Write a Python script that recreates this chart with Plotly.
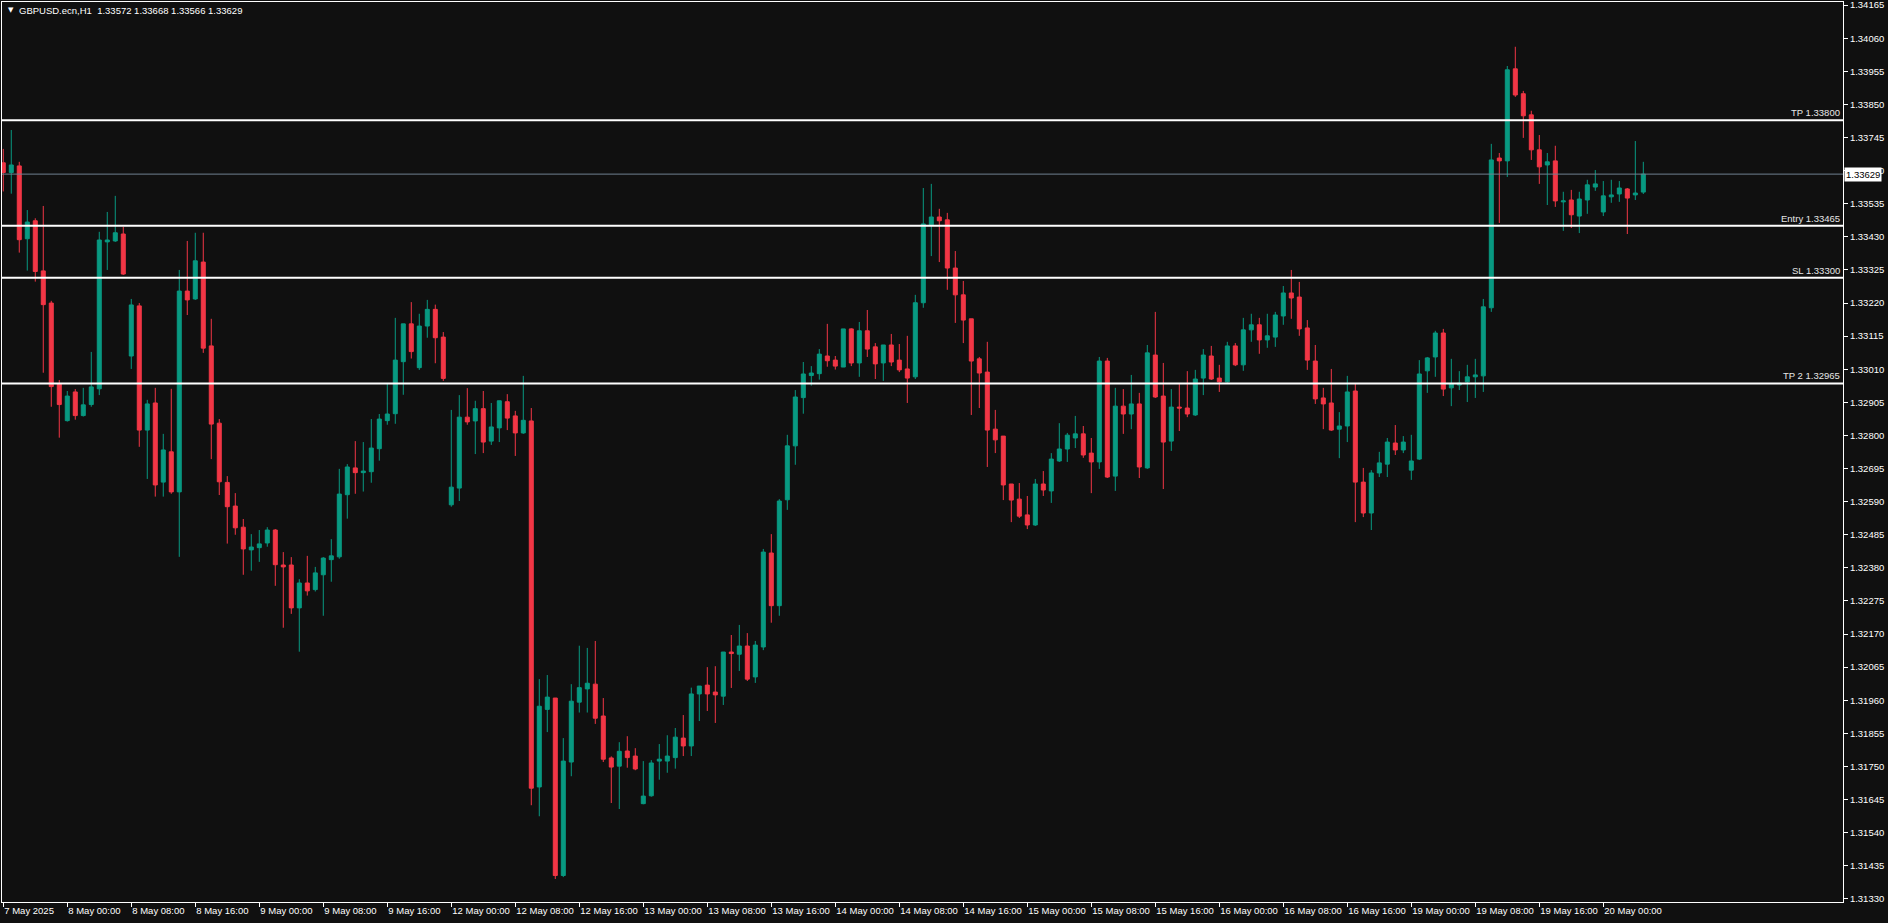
import plotly.graph_objects as go

# ---------------- data ----------------
days = ["2025-05-07", "2025-05-08", "2025-05-09", "2025-05-12", "2025-05-13",
        "2025-05-14", "2025-05-15", "2025-05-16", "2025-05-19", "2025-05-20"]
first_hour = 16
last_hour = 5

opens = [1.33665, 1.33634, 1.33655, 1.33424, 1.33481, 1.33322, 1.33220, 1.32963, 1.32847, 1.32938,
         1.32863, 1.32898, 1.32948, 1.33414, 1.33417, 1.33439, 1.33052, 1.33211, 1.32817, 1.32903,
         1.32652, 1.32748, 1.32621, 1.33258, 1.33233, 1.33350, 1.33084, 1.32839, 1.32651, 1.32576,
         1.32509, 1.32437, 1.32444, 1.32459, 1.32500, 1.32389, 1.32389, 1.32253, 1.32332, 1.32311,
         1.32358, 1.32406, 1.32415, 1.32612, 1.32697, 1.32682, 1.32685, 1.32758, 1.32847, 1.32869,
         1.33034, 1.33154, 1.33015, 1.33147, 1.33200, 1.33112, 1.32580, 1.32633, 1.32858, 1.32846,
         1.32885, 1.32782, 1.32824, 1.32907, 1.32862, 1.32808, 1.32846, 1.31685, 1.31931, 1.31967,
         1.31404, 1.31764, 1.31954, 1.31996, 1.32011, 1.31910, 1.31777, 1.31751, 1.31799, 1.31783,
         1.31632, 1.31657, 1.31767, 1.31767, 1.31778, 1.31840, 1.31815, 1.31980, 1.32008, 1.31986,
         1.31973, 1.32113, 1.32106, 1.32132, 1.32034, 1.32129, 1.32427, 1.32260, 1.32596, 1.32767,
         1.32920, 1.32990, 1.32996, 1.33052, 1.33039, 1.33017, 1.33138, 1.33030, 1.33132, 1.33081,
         1.33030, 1.33087, 1.33039, 1.33011, 1.32986, 1.33221, 1.33468, 1.33493, 1.33484, 1.33331,
         1.33246, 1.33170, 1.33043, 1.33001, 1.32820, 1.32798, 1.32646, 1.32598, 1.32548, 1.32516,
         1.32646, 1.32624, 1.32719, 1.32757, 1.32792, 1.32805, 1.32744, 1.32716, 1.33036, 1.32671,
         1.32893, 1.32868, 1.32900, 1.32697, 1.33055, 1.32925, 1.32782, 1.32890, 1.32887, 1.32865,
         1.32982, 1.33052, 1.32982, 1.32970, 1.33084, 1.33024, 1.33135, 1.33151, 1.33103, 1.33112,
         1.33179, 1.33252, 1.33239, 1.33141, 1.33036, 1.32919, 1.32903, 1.32820, 1.32830, 1.32941,
         1.32652, 1.32554, 1.32681, 1.32709, 1.32776, 1.32754, 1.32690, 1.32725, 1.33005, 1.33049,
         1.33125, 1.32951, 1.32960, 1.32970, 1.32986, 1.32989, 1.33205, 1.33680, 1.33671, 1.33963,
         1.33884, 1.33817, 1.33706, 1.33658, 1.33671, 1.33541, 1.33547, 1.33496, 1.33547, 1.33588,
         1.33509, 1.33557, 1.33566, 1.33582, 1.33563, 1.33572]

highs = [1.33709, 1.33769, 1.33668, 1.33515, 1.33489, 1.33528, 1.33227, 1.32976, 1.32941, 1.32947,
         1.32951, 1.33065, 1.33446, 1.33509, 1.33560, 1.33462, 1.33233, 1.33220, 1.32913, 1.32951,
         1.32805, 1.32948, 1.33325, 1.33417, 1.33443, 1.33443, 1.33170, 1.32852, 1.32671, 1.32617,
         1.32535, 1.32487, 1.32500, 1.32509, 1.32503, 1.32430, 1.32414, 1.32344, 1.32418, 1.32383,
         1.32414, 1.32471, 1.32694, 1.32709, 1.32782, 1.32779, 1.32852, 1.32868, 1.32964, 1.33173,
         1.33154, 1.33223, 1.33186, 1.33230, 1.33215, 1.33128, 1.32881, 1.32928, 1.32950, 1.32910,
         1.32941, 1.32903, 1.32910, 1.32931, 1.32878, 1.32989, 1.32887, 1.32027, 1.32040, 1.31967,
         1.31840, 1.32011, 1.32133, 1.32126, 1.32148, 1.31967, 1.31782, 1.31827, 1.31846, 1.31808,
         1.31767, 1.31770, 1.31821, 1.31849, 1.31872, 1.31913, 1.32000, 1.32005, 1.32065, 1.32068,
         1.32113, 1.32167, 1.32199, 1.32173, 1.32148, 1.32440, 1.32487, 1.32598, 1.32802, 1.32944,
         1.33033, 1.33020, 1.33074, 1.33154, 1.33052, 1.33138, 1.33140, 1.33160, 1.33198, 1.33093,
         1.33087, 1.33122, 1.33090, 1.33116, 1.33246, 1.33585, 1.33598, 1.33519, 1.33506, 1.33385,
         1.33290, 1.33170, 1.33049, 1.33097, 1.32881, 1.32798, 1.32646, 1.32649, 1.32608, 1.32662,
         1.32687, 1.32744, 1.32839, 1.32808, 1.32862, 1.32830, 1.32792, 1.33049, 1.33046, 1.32951,
         1.32947, 1.32992, 1.32935, 1.33087, 1.33192, 1.33030, 1.32947, 1.32963, 1.33004, 1.33008,
         1.33074, 1.33084, 1.33024, 1.33097, 1.33093, 1.33173, 1.33186, 1.33173, 1.33186, 1.33192,
         1.33274, 1.33325, 1.33287, 1.33166, 1.33087, 1.32951, 1.33011, 1.32874, 1.32989, 1.32963,
         1.32697, 1.32690, 1.32748, 1.32792, 1.32833, 1.32798, 1.32802, 1.33039, 1.33049, 1.33132,
         1.33138, 1.33043, 1.33004, 1.33024, 1.33043, 1.33233, 1.33725, 1.33696, 1.33972, 1.34033,
         1.33893, 1.33830, 1.33753, 1.33696, 1.33719, 1.33573, 1.33579, 1.33573, 1.33611, 1.33642,
         1.33607, 1.33611, 1.33607, 1.33585, 1.33734, 1.33668]

lows = [1.33574, 1.33567, 1.33380, 1.33323, 1.33288, 1.32999, 1.32891, 1.32793, 1.32844, 1.32850,
        1.32860, 1.32891, 1.32928, 1.33325, 1.33414, 1.33309, 1.33011, 1.32764, 1.32662, 1.32606,
        1.32606, 1.32615, 1.32415, 1.33182, 1.33230, 1.33062, 1.32725, 1.32611, 1.32457, 1.32485,
        1.32358, 1.32371, 1.32399, 1.32447, 1.32323, 1.32190, 1.32234, 1.32114, 1.32292, 1.32305,
        1.32228, 1.32336, 1.32409, 1.32536, 1.32615, 1.32622, 1.32650, 1.32720, 1.32834, 1.32837,
        1.32929, 1.33044, 1.33008, 1.33110, 1.33029, 1.32973, 1.32574, 1.32592, 1.32834, 1.32741,
        1.32744, 1.32770, 1.32779, 1.32817, 1.32735, 1.32805, 1.31627, 1.31592, 1.31859, 1.31393,
        1.31399, 1.31719, 1.31921, 1.31921, 1.31885, 1.31764, 1.31634, 1.31615, 1.31746, 1.31738,
        1.31630, 1.31654, 1.31708, 1.31730, 1.31743, 1.31783, 1.31783, 1.31894, 1.31926, 1.31888,
        1.31945, 1.31999, 1.32053, 1.32021, 1.32015, 1.32119, 1.32206, 1.32228, 1.32564, 1.32707,
        1.32869, 1.32958, 1.32977, 1.33018, 1.33009, 1.33017, 1.33020, 1.32986, 1.33049, 1.32979,
        1.32973, 1.33020, 1.33001, 1.32903, 1.32979, 1.33205, 1.33369, 1.33350, 1.33262, 1.33157,
        1.33093, 1.32865, 1.32887, 1.32700, 1.32744, 1.32595, 1.32525, 1.32538, 1.32503, 1.32513,
        1.32608, 1.32586, 1.32716, 1.32716, 1.32760, 1.32729, 1.32617, 1.32694, 1.32665, 1.32624,
        1.32805, 1.32820, 1.32665, 1.32694, 1.32919, 1.32630, 1.32751, 1.32814, 1.32858, 1.32862,
        1.32928, 1.32976, 1.32938, 1.32967, 1.33020, 1.33005, 1.33097, 1.33059, 1.33078, 1.33081,
        1.33151, 1.33170, 1.33116, 1.33008, 1.32900, 1.32820, 1.32814, 1.32728, 1.32779, 1.32525,
        1.32541, 1.32500, 1.32668, 1.32668, 1.32738, 1.32744, 1.32659, 1.32722, 1.32935, 1.32986,
        1.32925, 1.32893, 1.32944, 1.32906, 1.32919, 1.32938, 1.33192, 1.33474, 1.33620, 1.33874,
        1.33744, 1.33674, 1.33598, 1.33531, 1.33525, 1.33449, 1.33458, 1.33442, 1.33503, 1.33576,
        1.33496, 1.33538, 1.33541, 1.33439, 1.33547, 1.33566]

closes = [1.33634, 1.33658, 1.33421, 1.33477, 1.33320, 1.33215, 1.32955, 1.32898, 1.32925, 1.32863,
          1.32897, 1.32954, 1.33420, 1.33420, 1.33443, 1.33312, 1.33214, 1.32817, 1.32900, 1.32643,
          1.32754, 1.32621, 1.33258, 1.33230, 1.33354, 1.33077, 1.32836, 1.32653, 1.32574, 1.32507,
          1.32440, 1.32446, 1.32456, 1.32500, 1.32390, 1.32383, 1.32253, 1.32332, 1.32307, 1.32364,
          1.32411, 1.32418, 1.32614, 1.32700, 1.32682, 1.32687, 1.32760, 1.32852, 1.32868, 1.33039,
          1.33154, 1.33066, 1.33147, 1.33200, 1.33110, 1.32981, 1.32636, 1.32858, 1.32843, 1.32885,
          1.32779, 1.32827, 1.32910, 1.32855, 1.32808, 1.32848, 1.31681, 1.31941, 1.31970, 1.31404,
          1.31767, 1.31957, 1.32000, 1.32014, 1.31903, 1.31773, 1.31748, 1.31798, 1.31778, 1.31742,
          1.31656, 1.31761, 1.31773, 1.31783, 1.31843, 1.31815, 1.31980, 1.32005, 1.31980, 1.31977,
          1.32113, 1.32108, 1.32132, 1.32027, 1.32135, 1.32430, 1.32260, 1.32592, 1.32767, 1.32922,
          1.32995, 1.32998, 1.33058, 1.33037, 1.33020, 1.33138, 1.33030, 1.33132, 1.33074, 1.33027,
          1.33087, 1.33033, 1.33008, 1.32982, 1.33221, 1.33471, 1.33493, 1.33481, 1.33331, 1.33246,
          1.33166, 1.33036, 1.32998, 1.32817, 1.32786, 1.32643, 1.32595, 1.32544, 1.32516, 1.32646,
          1.32627, 1.32725, 1.32757, 1.32801, 1.32805, 1.32738, 1.32716, 1.33036, 1.32668, 1.32893,
          1.32868, 1.32900, 1.32700, 1.33062, 1.32922, 1.32779, 1.32890, 1.32887, 1.32868, 1.32979,
          1.33055, 1.32979, 1.32970, 1.33084, 1.33024, 1.33135, 1.33151, 1.33103, 1.33116, 1.33182,
          1.33252, 1.33236, 1.33138, 1.33039, 1.32916, 1.32900, 1.32817, 1.32830, 1.32938, 1.32652,
          1.32554, 1.32681, 1.32713, 1.32779, 1.32754, 1.32779, 1.32719, 1.32995, 1.33046, 1.33125,
          1.32947, 1.32963, 1.32966, 1.32986, 1.32992, 1.33208, 1.33674, 1.33671, 1.33960, 1.33880,
          1.33814, 1.33706, 1.33652, 1.33668, 1.33544, 1.33544, 1.33500, 1.33550, 1.33595, 1.33598,
          1.33560, 1.33563, 1.33585, 1.33553, 1.33569, 1.33629]

tick_labels = ["7 May 2025", "8 May 00:00", "8 May 08:00", "8 May 16:00", "9 May 00:00",
               "9 May 08:00", "9 May 16:00", "12 May 00:00", "12 May 08:00", "12 May 16:00",
               "13 May 00:00", "13 May 08:00", "13 May 16:00", "14 May 00:00", "14 May 08:00",
               "14 May 16:00", "15 May 00:00", "15 May 08:00", "15 May 16:00", "16 May 00:00",
               "16 May 08:00", "16 May 16:00", "19 May 00:00", "19 May 08:00", "19 May 16:00",
               "20 May 00:00"]

price_ticks = [1.34165, 1.34060, 1.33955, 1.33850, 1.33745, 1.33640, 1.33535, 1.33430,
               1.33325, 1.33220, 1.33115, 1.33010, 1.32905, 1.32800, 1.32695, 1.32590,
               1.32485, 1.32380, 1.32275, 1.32170, 1.32065, 1.31960, 1.31855, 1.31750,
               1.31645, 1.31540, 1.31435, 1.31330]

level_names = ["TP", "Entry", "SL", "TP 2"]
level_prices = [1.33800, 1.33465, 1.33300, 1.32965]
bid_price = 1.33629
symbol_title = "GBPUSD.ecn,H1"

# ---------------- categories (hourly bars, weekend removed) ----------------
times = []
for i, d in enumerate(days):
    h0 = first_hour if i == 0 else 0
    h1 = last_hour if i == len(days) - 1 else 23
    for h in range(h0, h1 + 1):
        times.append(f"{d} {h:02d}:00")

UP = "#089981"
DN = "#F23645"
BG = "#101010"
FG = "#FFFFFF"
FONT = "Liberation Sans, Arial, sans-serif"

fig = go.Figure(go.Candlestick(
    x=times, open=opens, high=highs, low=lows, close=closes,
    increasing=dict(line=dict(color=UP, width=1), fillcolor=UP),
    decreasing=dict(line=dict(color=DN, width=1), fillcolor=DN),
    whiskerwidth=0, showlegend=False, hoverinfo="skip",
))

shapes = []
annotations = []
for name, p in zip(level_names, level_prices):
    shapes.append(dict(type="line", xref="paper", x0=0, x1=1, yref="y", y0=p, y1=p,
                       line=dict(color=FG, width=2), layer="above"))
    annotations.append(dict(xref="paper", x=1, xanchor="right", xshift=-1,
                            yref="y", y=p, yanchor="bottom", yshift=0,
                            text=f"{name} {p:.5f}", showarrow=False,
                            font=dict(family=FONT, size=9.5, color="#E6E6E6")))

shapes.append(dict(type="line", xref="paper", x0=0, x1=1, yref="y", y0=bid_price, y1=bid_price,
                   line=dict(color="#708090", width=1), layer="above"))
annotations.append(dict(xref="paper", x=1, xanchor="left", xshift=1,
                        yref="y", y=bid_price, yanchor="middle",
                        text=f"{bid_price:.5f}", showarrow=False, bgcolor="#FFFFFF",
                        borderpad=1, font=dict(family=FONT, size=9.5, color="#000000")))

annotations.append(dict(xref="paper", x=0, xanchor="left", xshift=4,
                        yref="paper", y=1, yanchor="top", yshift=-2,
                        text="▼", showarrow=False,
                        font=dict(family="DejaVu Sans", size=7, color=FG)))
annotations.append(dict(xref="paper", x=0, xanchor="left", xshift=15,
                        yref="paper", y=1, yanchor="top", yshift=-1,
                        text=f"{symbol_title}  {opens[-1]:.5f} {highs[-1]:.5f} {lows[-1]:.5f} {closes[-1]:.5f}",
                        showarrow=False,
                        font=dict(family=FONT, size=9.5, color=FG)))

fig.update_layout(
    width=1888, height=923, autosize=False,
    paper_bgcolor=BG, plot_bgcolor=BG,
    margin=dict(l=2, r=45, t=2, b=21),
    boxgap=0.5, boxgroupgap=0,
    shapes=shapes, annotations=annotations,
    font=dict(family=FONT, size=9.5, color=FG),
    xaxis=dict(type="category", range=[-0.16, 229.96], rangeslider=dict(visible=False),
               showgrid=False, zeroline=False, automargin=False,
               tickvals=times[::8], ticktext=tick_labels, tickangle=0,
               ticks="outside", ticklen=4, tickcolor=FG, tickwidth=1,
               ticklabelposition="outside right", ticklabeloverflow="allow",
               tickfont=dict(family=FONT, size=9.5, color=FG),
               showline=True, linecolor=FG, linewidth=1, mirror=True),
    yaxis=dict(side="right", range=[1.31320, 1.34175], showgrid=False, zeroline=False,
               automargin=False, ticklabeloverflow="allow",
               tickvals=price_ticks, ticktext=[f"{v:.5f}" for v in price_ticks],
               ticks="outside", ticklen=4, tickcolor=FG, tickwidth=1,
               tickfont=dict(family=FONT, size=9.5, color=FG),
               showline=True, linecolor=FG, linewidth=1, mirror=True),
)

fig.write_html("out.html",
               config={"displayModeBar": False},
               post_script="document.body.style.margin='0';"
                           "document.body.style.padding='0';"
                           "document.body.style.background='#101010';"
                           "document.body.style.overflow='hidden';")
